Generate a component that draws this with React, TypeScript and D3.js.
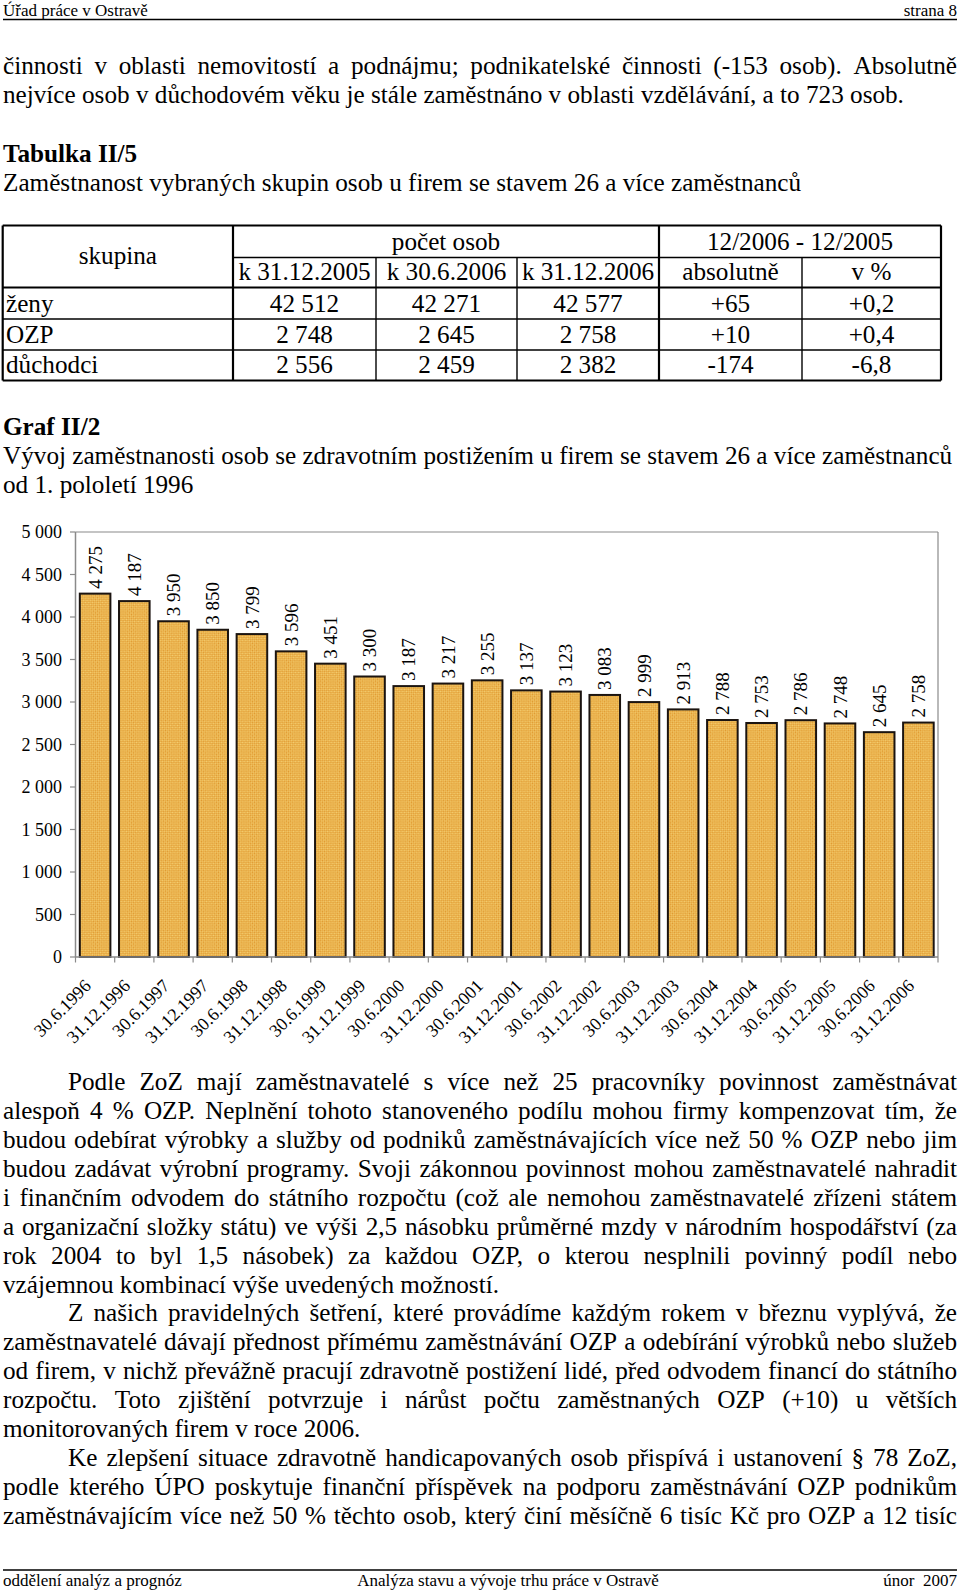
import React from 'react';
import * as d3 from 'd3';

// ---------- data ----------
const years = [1996, 1997, 1998, 1999, 2000, 2001, 2002, 2003, 2004, 2005, 2006];
const categories: string[] = years.flatMap((yr) => [`30.6.${yr}`, `31.12.${yr}`]);
const values = [4275, 4187, 3950, 3850, 3799, 3596, 3451, 3300, 3187, 3217, 3255, 3137, 3123, 3083, 2999, 2913, 2788, 2753, 2786, 2748, 2645, 2758];
const yTicks = [0, 500, 1000, 1500, 2000, 2500, 3000, 3500, 4000, 4500, 5000];

const tableGroups = ['ženy', 'OZP', 'důchodci'];
const tableDec2005 = ['42 512', '2 748', '2 556'];
const tableJun2006 = ['42 271', '2 645', '2 459'];
const tableDec2006 = ['42 577', '2 758', '2 382'];
const tableAbs = ['+65', '+10', '-174'];
const tablePct = ['+0,2', '+0,4', '-6,8'];
const tableSubHeads = ['k 31.12.2005', 'k 30.6.2006', 'k 31.12.2006', 'absolutně', 'v %'];

const FONT = "'Liberation Serif', 'Times New Roman', serif";
const BODY = 25.2;
const SMALL = 17;
const CHART = 18;
const LEFT = 3;
const RIGHT = 957;

type Line = { t: string; j: boolean; ind?: boolean };
const introLines: Line[] = [
  { t: 'činnosti v oblasti nemovitostí a podnájmu; podnikatelské činnosti (-153 osob). Absolutně', j: true },
  { t: 'nejvíce osob v důchodovém věku je stále zaměstnáno v oblasti vzdělávání, a to 723 osob.', j: false },
];
const bodyLines: Line[] = [
  { t: 'Podle ZoZ mají zaměstnavatelé s více než 25 pracovníky povinnost zaměstnávat', j: true, ind: true },
  { t: 'alespoň 4 % OZP. Neplnění tohoto stanoveného podílu mohou firmy kompenzovat tím, že', j: true },
  { t: 'budou odebírat výrobky a služby od podniků zaměstnávajících více než 50 % OZP nebo jim', j: true },
  { t: 'budou zadávat výrobní programy. Svoji zákonnou povinnost mohou zaměstnavatelé nahradit', j: true },
  { t: 'i finančním odvodem do státního rozpočtu (což ale nemohou zaměstnavatelé zřízeni státem', j: true },
  { t: 'a organizační složky státu) ve výši 2,5 násobku průměrné mzdy v národním hospodářství (za', j: true },
  { t: 'rok 2004 to byl 1,5 násobek) za každou OZP, o kterou nesplnili povinný podíl nebo', j: true },
  { t: 'vzájemnou kombinací výše uvedených možností.', j: false },
  { t: 'Z našich pravidelných šetření, které provádíme každým rokem v březnu vyplývá, že', j: true, ind: true },
  { t: 'zaměstnavatelé dávají přednost přímému zaměstnávání OZP a odebírání výrobků nebo služeb', j: true },
  { t: 'od firem, v nichž převážně pracují zdravotně postižení lidé, před odvodem financí do státního', j: true },
  { t: 'rozpočtu. Toto zjištění potvrzuje i nárůst počtu zaměstnaných OZP (+10) u větších', j: true },
  { t: 'monitorovaných firem v roce 2006.', j: false },
  { t: 'Ke zlepšení situace zdravotně handicapovaných osob přispívá i ustanovení § 78 ZoZ,', j: true, ind: true },
  { t: 'podle kterého ÚPO poskytuje finanční příspěvek na podporu zaměstnávání OZP podnikům', j: true },
  { t: 'zaměstnávajícím více než 50 % těchto osob, který činí měsíčně 6 tisíc Kč pro OZP a 12 tisíc', j: true },
];

let ctx: CanvasRenderingContext2D | null = null;
function measure(text: string, size: number, bold = false): number {
  if (!ctx) ctx = document.createElement('canvas').getContext('2d');
  if (!ctx) return text.length * size * 0.45;
  ctx.font = `${bold ? 'bold ' : ''}${size}px "Liberation Serif"`;
  return ctx.measureText(text).width;
}

function TextLine({ line, y }: { line: Line; y: number }) {
  const x0 = line.ind ? 68 : LEFT;
  if (!line.j) {
    return (
      <text x={x0} y={y} fontSize={BODY}>
        {line.t}
      </text>
    );
  }
  const words = line.t.split(' ');
  const widths = words.map((w) => measure(w, BODY));
  const total = widths.reduce((a, b) => a + b, 0);
  const gap = (RIGHT - x0 - total) / (words.length - 1);
  let cx = x0;
  return (
    <g>
      {words.map((w, i) => {
        const el = (
          <text key={i} x={cx} y={y} fontSize={BODY}>
            {w}
          </text>
        );
        cx += widths[i] + gap;
        return el;
      })}
    </g>
  );
}

const fmt = (v: number) => d3.format(',')(v).replace(/,/g, ' ');

function Chart() {
  const x = d3.scaleBand<string>().domain(categories).range([75.5, 938]).paddingInner(0.22).paddingOuter(0.11);
  const y = d3.scaleLinear().domain([0, 5000]).range([957, 532]);
  const step = x.step();
  const [x0, x1] = x.range();
  const [yb, yt] = y.range();
  const grey = '#8a8a8a';
  return (
    <g>
      <defs>
        <pattern id="chk" width="3" height="3" patternUnits="userSpaceOnUse" patternTransform="rotate(45)">
          <rect width="3" height="3" fill="#F4CE70" />
          <rect width="1.5" height="1.5" fill="#E0982E" />
          <rect x="1.5" y="1.5" width="1.5" height="1.5" fill="#E0982E" />
        </pattern>
      </defs>
      {/* plot border */}
      <line x1={x0} x2={x1} y1={yt} y2={yt} stroke={grey} strokeWidth={1.2} />
      <line x1={x1} x2={x1} y1={yt} y2={yb} stroke={grey} strokeWidth={1.2} />
      {/* bars */}
      {values.map((v, i) => (
        <rect
          key={i}
          x={x(categories[i])!}
          y={y(v)}
          width={x.bandwidth()}
          height={yb - y(v)}
          fill="url(#chk)"
          stroke="#1b1410"
          strokeWidth={2}
        />
      ))}
      {/* axes */}
      <line x1={x0} x2={x0} y1={yt} y2={yb} stroke={grey} strokeWidth={1.5} />
      <line x1={x0} x2={x1} y1={yb} y2={yb} stroke={grey} strokeWidth={1.5} />
      {yTicks.map((t) => (
        <g key={t}>
          <line x1={x0 - 5.5} x2={x0} y1={y(t)} y2={y(t)} stroke={grey} strokeWidth={1.2} />
          <text x={62} y={y(t)} dy="0.35em" textAnchor="end" fontSize={CHART}>
            {fmt(t)}
          </text>
        </g>
      ))}
      {d3.range(categories.length + 1).map((k) => (
        <line key={k} x1={x0 + k * step} x2={x0 + k * step} y1={yb} y2={yb + 5.5} stroke={grey} strokeWidth={1.2} />
      ))}
      {/* value labels */}
      {values.map((v, i) => {
        const cx = x(categories[i])! + x.bandwidth() / 2;
        return (
          <text key={i} transform={`translate(${cx},${y(v) - 5}) rotate(-90)`} dy="0.35em" fontSize={CHART + 1}>
            {fmt(v)}
          </text>
        );
      })}
      {/* category labels */}
      {categories.map((c) => {
        const cx = x(c)! + x.bandwidth() / 2;
        return (
          <text key={c} transform={`translate(${cx - 3},${yb + 30}) rotate(-45)`} textAnchor="end" fontSize={CHART}>
            {c}
          </text>
        );
      })}
    </g>
  );
}

function Table() {
  const cols = [2.7, 233, 376, 517, 659, 802, 941];
  const rows = [225.5, 257.5, 287.5, 319, 350, 380.5];
  const mid = (a: number, b: number) => (a + b) / 2;
  const dataCols = [tableDec2005, tableJun2006, tableDec2006, tableAbs, tablePct];
  const thick = 2.2;
  const thin = 1.4;
  return (
    <g>
      <line x1={cols[0]} x2={cols[6]} y1={rows[0]} y2={rows[0]} stroke="#000" strokeWidth={thick} />
      <line x1={cols[1]} x2={cols[6]} y1={rows[1]} y2={rows[1]} stroke="#000" strokeWidth={thin} />
      <line x1={cols[0]} x2={cols[6]} y1={rows[2]} y2={rows[2]} stroke="#000" strokeWidth={thick} />
      <line x1={cols[0]} x2={cols[6]} y1={rows[3]} y2={rows[3]} stroke="#000" strokeWidth={thin} />
      <line x1={cols[0]} x2={cols[6]} y1={rows[4]} y2={rows[4]} stroke="#000" strokeWidth={thin} />
      <line x1={cols[0]} x2={cols[6]} y1={rows[5]} y2={rows[5]} stroke="#000" strokeWidth={thick} />
      <line x1={cols[0]} x2={cols[0]} y1={rows[0]} y2={rows[5]} stroke="#000" strokeWidth={thick} />
      <line x1={cols[1]} x2={cols[1]} y1={rows[0]} y2={rows[5]} stroke="#000" strokeWidth={thick} />
      <line x1={cols[2]} x2={cols[2]} y1={rows[1]} y2={rows[5]} stroke="#000" strokeWidth={thin} />
      <line x1={cols[3]} x2={cols[3]} y1={rows[1]} y2={rows[5]} stroke="#000" strokeWidth={thin} />
      <line x1={cols[4]} x2={cols[4]} y1={rows[0]} y2={rows[5]} stroke="#000" strokeWidth={thick} />
      <line x1={cols[5]} x2={cols[5]} y1={rows[1]} y2={rows[5]} stroke="#000" strokeWidth={thin} />
      <line x1={cols[6]} x2={cols[6]} y1={rows[0]} y2={rows[5]} stroke="#000" strokeWidth={thick} />
      <text x={mid(cols[0], cols[1])} y={263.5} textAnchor="middle" fontSize={BODY}>skupina</text>
      <text x={mid(cols[1], cols[4])} y={rows[1] - 7.5} textAnchor="middle" fontSize={BODY}>počet osob</text>
      <text x={mid(cols[4], cols[6])} y={rows[1] - 7.5} textAnchor="middle" fontSize={BODY}>12/2006 - 12/2005</text>
      {tableSubHeads.map((h, i) => (
        <text key={h} x={mid(cols[i + 1], cols[i + 2])} y={rows[2] - 7.5} textAnchor="middle" fontSize={BODY}>
          {h}
        </text>
      ))}
      {tableGroups.map((g, r) => (
        <g key={g}>
          <text x={6} y={rows[r + 3] - 7.5} fontSize={BODY}>{g}</text>
          {dataCols.map((col, c) => (
            <text key={c} x={mid(cols[c + 1], cols[c + 2])} y={rows[r + 3] - 7.5} textAnchor="middle" fontSize={BODY}>
              {col[r]}
            </text>
          ))}
        </g>
      ))}
    </g>
  );
}

export default function App() {
  const bodyStart = 1090.3;
  const lh = 28.89;
  return (
    <svg
      width={960}
      height={1591}
      viewBox="0 0 960 1591"
      style={{ position: 'absolute', left: 0, top: 0, display: 'block', background: '#fff' }}
      fontFamily={FONT}
      fill="#000"
    >
      <rect width={960} height={1591} fill="#fff" />
      <text x={LEFT} y={16} fontSize={SMALL}>Úřad práce v Ostravě</text>
      <text x={RIGHT} y={16} fontSize={SMALL} textAnchor="end">strana 8</text>
      <line x1={LEFT} x2={RIGHT} y1={19.5} y2={19.5} stroke="#000" strokeWidth={1.3} />

      {introLines.map((l, i) => (
        <TextLine key={i} line={l} y={73.5 + i * 29} />
      ))}

      <text x={LEFT} y={161.7} fontSize={BODY} fontWeight="bold">Tabulka II/5</text>
      <text x={LEFT} y={191.2} fontSize={BODY}>Zaměstnanost vybraných skupin osob u firem se stavem 26 a více zaměstnanců</text>

      <Table />

      <text x={LEFT} y={435} fontSize={BODY} fontWeight="bold">Graf II/2</text>
      <text x={LEFT} y={464} fontSize={BODY}>Vývoj zaměstnanosti osob se zdravotním postižením u firem se stavem 26 a více zaměstnanců</text>
      <text x={LEFT} y={493} fontSize={BODY}>od 1. pololetí 1996</text>

      <Chart />

      {bodyLines.map((l, i) => (
        <TextLine key={i} line={l} y={bodyStart + i * lh} />
      ))}

      <line x1={LEFT} x2={RIGHT} y1={1570} y2={1570} stroke="#000" strokeWidth={1.3} />
      <text x={LEFT} y={1586} fontSize={SMALL}>oddělení analýz a prognóz</text>
      <text x={508} y={1586} fontSize={SMALL} textAnchor="middle">Analýza stavu a vývoje trhu práce v Ostravě</text>
      <text x={RIGHT} y={1586} fontSize={SMALL} textAnchor="end" style={{ whiteSpace: 'pre' }}>únor  2007</text>
    </svg>
  );
}
